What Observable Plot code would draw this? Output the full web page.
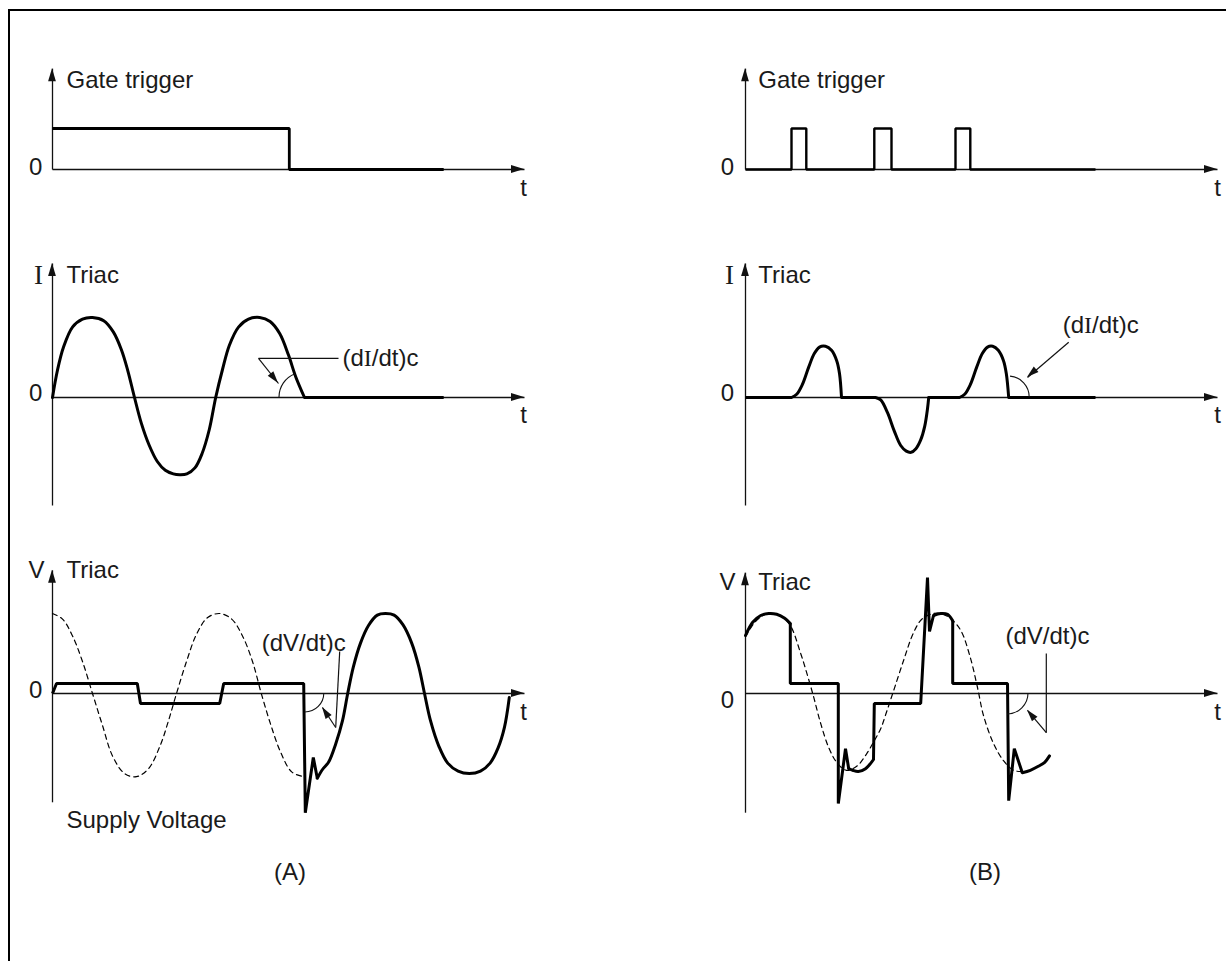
<!DOCTYPE html>
<html><head><meta charset="utf-8">
<script src="https://cdn.jsdelivr.net/npm/d3@7"></script>
<script src="https://cdn.jsdelivr.net/npm/@observablehq/plot@0.6"></script>
<style>
html,body{margin:0;padding:0;background:#fff;overflow:hidden;}
#page{position:relative;width:1226px;height:961px;overflow:hidden;font-family:"Liberation Sans",Arial,Helvetica,sans-serif;}
#frame{position:absolute;left:8px;top:9px;width:1400px;height:1100px;border-left:2.6px solid #000;border-top:2.6px solid #000;}
.panel{position:absolute;}
.cap{position:absolute;font-size:24px;color:#1a1a1a;transform:translate(-50%,-50%);white-space:nowrap;}
</style></head>
<body><div id="page"><div id="frame"></div></div>
<script>
// ---------------- data (time t in ms, amplitude in normalised units) ----------------
const T_END = 59; // length of time axis
// gate trigger
const gateA = [[0,1],[29.6,1],[29.6,0],[48.9,0]];
const gateB = [[0,0],[5.75,0],[5.75,1],[7.6,1],[7.6,0],[16.1,0],[16.1,1],[18.25,1],[18.25,0],[26.25,0],[26.25,1],[28.1,1],[28.1,0],[43.75,0]];
// triac current
const iTriacA = [
  ["smooth", [[0,0],[0.62,0.34],[1.38,0.63],[2.5,0.88],[3.75,0.98],[5.0,1.0],[6.4,0.96],[7.6,0.82],[8.6,0.6],[9.4,0.34],[10.25,0],[11.1,-0.32],[12.1,-0.6],[13.1,-0.8],[14.1,-0.91],[15.1,-0.955],[15.9,-0.965],[16.8,-0.955],[17.8,-0.88],[18.7,-0.7],[19.6,-0.4],[20.4,0],[21.25,0.35],[22.1,0.65],[23.25,0.88],[24.5,0.98],[25.9,1.0],[27.2,0.95],[28.4,0.8],[29.5,0.53],[30.4,0.26],[31.5,0]]],
  ["linear", [[31.5,0],[48.9,0]]]
];
const iTriacB = [
  ["linear", [[0,0],[5.75,0]]],
  ["smooth", [[5.75,0],[6.4,0.04],[7.1,0.16],[7.9,0.38],[8.6,0.55],[9.25,0.63],[10.0,0.64],[10.75,0.59],[11.4,0.46],[11.75,0.3],[12.0,0]]],
  ["linear", [[12,0],[16.25,0]]],
  ["smooth", [[16.25,0],[16.9,-0.03],[17.75,-0.19],[18.6,-0.42],[19.4,-0.6],[20.1,-0.67],[20.7,-0.685],[21.3,-0.64],[21.9,-0.53],[22.4,-0.36],[22.75,-0.14],[22.9,0]]],
  ["linear", [[22.9,0],[26.75,0]]],
  ["smooth", [[26.75,0],[27.4,0.04],[28.1,0.16],[28.9,0.38],[29.6,0.55],[30.25,0.63],[30.9,0.64],[31.6,0.59],[32.25,0.46],[32.6,0.3],[32.9,0]]],
  ["linear", [[32.9,0],[43.75,0]]]
];
// supply voltage (dashed)
const supplyA = [[0,1.0],[1.25,0.93],[2.5,0.72],[3.75,0.4],[5.0,0],[6.25,-0.4],[7.5,-0.78],[9.0,-1.0],[10.5,-1.04],[12.0,-0.94],[13.5,-0.64],[14.5,-0.34],[15.5,0],[16.75,0.4],[18.0,0.74],[19.4,0.95],[20.9,1.0],[22.4,0.93],[23.75,0.72],[25.0,0.4],[26.1,0],[27.25,-0.38],[28.5,-0.73],[29.9,-0.98],[31.4,-1.04]];
const supplyB = [[0,0.71],[1.25,0.9],[2.5,0.99],[3.4,1.0],[4.4,0.975],[5.6,0.85],[6.9,0.5],[8.4,0],[9.4,-0.375],[10.4,-0.675],[11.4,-0.86],[12.6,-0.96],[13.9,-0.91],[15.1,-0.76],[16.1,-0.59],[16.9,-0.44],[17.6,-0.24],[18.4,0],[19.75,0.41],[21,0.76],[22,0.925],[23.1,0.99],[24.4,1.0],[25.6,0.94],[26.9,0.79],[28.1,0.45],[29,0.075],[29.75,-0.275],[31,-0.625],[32.25,-0.84],[33.5,-0.96],[34.4,-0.975]];
// triac voltage
const vTriacA = [
  ["linear", [[0,0],[0.5,0.125],[10.6,0.125],[11.0,-0.125],[20.9,-0.125],[21.4,0.125],[31.4,0.125],[31.6,-1.49],[32.6,-0.8],[33.1,-1.06]]],
  ["smooth", [[33.1,-1.06],[33.75,-0.95],[34.5,-0.86],[35.4,-0.63],[36.25,-0.34],[36.9,0],[37.6,0.33],[38.5,0.63],[39.5,0.85],[40.6,0.98],[41.6,1.0],[42.7,0.98],[43.8,0.86],[44.9,0.63],[45.8,0.33],[46.5,0],[47.25,-0.34],[48.3,-0.66],[49.4,-0.87],[50.7,-0.97],[52.1,-1.0],[53.5,-0.97],[54.7,-0.87],[55.7,-0.68],[56.5,-0.42],[57.1,-0.05]]]
];
const vTriacB = [
  ["smooth", [[0,0.725],[0.9,0.89],[1.9,0.975],[2.9,1.0],[3.9,0.99],[4.9,0.94],[5.6,0.875]]],
  ["linear", [[5.6,0.875],[5.6,0.125],[11.6,0.125],[11.6,-1.375],[12.5,-0.69],[12.9,-0.94]]],
  ["smooth", [[12.9,-0.94],[13.4,-0.96],[14.1,-0.975],[15,-0.94],[16,-0.825]]],
  ["linear", [[16,-0.825],[16.1,-0.125],[21.9,-0.125],[22.75,1.45],[23,0.775],[23.5,0.975]]],
  ["smooth", [[23.5,0.975],[24.4,1.0],[25.25,0.99],[25.9,0.91]]],
  ["linear", [[25.9,0.91],[25.9,0.125],[32.75,0.125],[32.9,-1.34],[33.6,-0.69],[34.6,-0.99]]],
  ["smooth", [[34.6,-0.99],[35.6,-0.96],[36.6,-0.91],[37.4,-0.86],[38,-0.78]]]
];

// ---------------- helpers ----------------
const SANS = "'Liberation Sans', Arial, Helvetica, sans-serif";
const SERIF = "'Liberation Serif', 'Times New Roman', serif";
const INK = "#000";
const TXT = "#1a1a1a";
const FS = 24;

function wave(segs, sw = 3) {
  const rows = segs.flatMap(([kind, pts], i) => pts.map(([t, v]) => ({t, v, seg: i, kind})));
  return [
    Plot.line(rows.filter(d => d.kind === "smooth"), {x: "t", y: "v", z: "seg", curve: "catmull-rom", stroke: INK, strokeWidth: sw, strokeLinejoin: "round", strokeLinecap: "round"}),
    Plot.line(rows.filter(d => d.kind === "linear"), {x: "t", y: "v", z: "seg", stroke: INK, strokeWidth: sw, strokeLinejoin: "miter", strokeLinecap: "butt"})
  ];
}
function steps(pts, sw) {
  return Plot.line(pts, {x: d => d[0], y: d => d[1], stroke: INK, strokeWidth: sw, strokeLinejoin: "miter", strokeLinecap: "butt"});
}
function dashed(pts) {
  return Plot.line(pts, {x: d => d[0], y: d => d[1], curve: "catmull-rom", stroke: INK, strokeWidth: 1.2, strokeDasharray: "5,4"});
}
// filled arrow heads, computed in screen space from the scales
function heads(list, L = 13, W = 3.9) {
  return (index, {x, y}) => {
    const g = d3.create("svg:g").attr("fill", "#111");
    for (const a of list) {
      const x1 = x(a.t1), y1 = y(a.v1), x2 = x(a.t2), y2 = y(a.v2);
      const ang = Math.atan2(y2 - y1, x2 - x1), ux = Math.cos(ang), uy = Math.sin(ang);
      const bx = x2 - ux * L, by = y2 - uy * L, px = -uy * W, py = ux * W;
      g.append("path").attr("d", `M${x2},${y2}L${bx + px},${by + py}L${bx - px},${by - py}Z`);
    }
    return g.node();
  };
}
function arcs(list) {
  return (index, {x, y}) => {
    const g = d3.create("svg:g").attr("fill", "none").attr("stroke", "#111").attr("stroke-width", 1.1);
    for (const a of list) {
      const cx = x(a.t), cy = y(a.v), r = a.r, a0 = a.a0 * Math.PI / 180, a1 = a.a1 * Math.PI / 180;
      g.append("path").attr("d", `M${cx + r * Math.cos(a0)},${cy + r * Math.sin(a0)}A${r},${r} 0 0 ${a.sweep} ${cx + r * Math.cos(a1)},${cy + r * Math.sin(a1)}`);
    }
    return g.node();
  };
}
function links(list, sw = 1.2) {
  return Plot.link(list, {x1: "t1", y1: "v1", x2: "t2", y2: "v2", stroke: "#111", strokeWidth: sw});
}
function texts(list, anchor, family = SANS, size = FS) {
  return Plot.text(list, {x: d => d[0], y: d => d[1], text: d => d[2], textAnchor: anchor, fontFamily: family, fontSize: size, fill: TXT});
}

const cols = {A: {left: 0, width: 610, axisX: 52}, B: {left: 610, width: 616, axisX: 135}};
const rowsCfg = {
  gate: {top: 40, height: 180, zeroY: 129, ky: 41},
  cur: {top: 220, height: 320, zeroY: 177, ky: 80},
  volt: {top: 540, height: 320, zeroY: 153, ky: 80}
};
const KX = 8; // px per ms

function panel(col, row, vTip, vBot, marks) {
  const c = cols[col], r = rowsCfg[row];
  const axis = [
    {t1: 0, v1: vBot, t2: 0, v2: vTip},
    {t1: 0, v1: 0, t2: T_END, v2: 0}
  ];
  const p = Plot.plot({
    width: c.width, height: r.height,
    style: {background: "transparent", overflow: "visible"},
    x: {domain: [0, 1], range: [c.axisX, c.axisX + KX], axis: null},
    y: {domain: [0, 1], range: [r.zeroY, r.zeroY - r.ky], axis: null},
    marks: [
      links(axis, 1.3),
      ...marks,
      heads(axis)
    ]
  });
  p.querySelectorAll("text").forEach(el => {
    if (el.textContent === "(dI/dt)c") {
      el.textContent = "";
      const ns = "http://www.w3.org/2000/svg";
      const a = document.createElementNS(ns, "tspan"); a.textContent = "(d";
      const b = document.createElementNS(ns, "tspan"); b.textContent = "I"; b.setAttribute("font-family", SERIF);
      const d = document.createElementNS(ns, "tspan"); d.textContent = "/dt)c";
      el.append(a, b, d);
    }
  });
  const div = document.createElement("div");
  div.className = "panel";
  div.style.left = c.left + "px"; div.style.top = r.top + "px";
  div.style.width = c.width + "px"; div.style.height = r.height + "px";
  div.appendChild(p);
  document.getElementById("page").appendChild(div);
}

// ---------------- (A) ----------------
panel("A", "gate", 2.46, 0, [
  steps(gateA, 2.8),
  texts([[1.75, 2.17, "Gate trigger"]], "start"),
  texts([[-2.1, 0.05, "0"], [58.9, -0.46, "t"]], "middle")
]);
const arrowIA = [{t1: 25.75, v1: 0.49, t2: 28.25, v2: 0.175}];
panel("A", "cur", 1.675, -1.35, [
  ...wave(iTriacA),
  links([{t1: 25.75, v1: 0.49, t2: 35.75, v2: 0.49}, ...arrowIA]),
  arcs([{t: 31.5, v: 0, r: 25, a0: 180, a1: 249, sweep: 1}]),
  heads(arrowIA, 12, 3.6),
  texts([[1.75, 1.525, "Triac"], [36.25, 0.49, "(dI/dt)c"]], "start"),
  texts([[-2.1, 0.05, "0"], [58.9, -0.225, "t"]], "middle"),
  texts([[-1.75, 1.525, "I"]], "middle", SERIF, 27)
]);
const arrowVA = [{t1: 35.4, v1: -0.425, t2: 33.75, v2: -0.175}];
panel("A", "volt", 1.54, -1.36, [
  dashed(supplyA),
  ...wave(vTriacA),
  links([{t1: 35.9, v1: 0.525, t2: 35.4, v2: -0.425}, ...arrowVA]),
  arcs([{t: 31.6, v: 0, r: 19, a0: 90, a1: 0, sweep: 0}]),
  heads(arrowVA, 12, 3.6),
  texts([[1.75, 1.54, "Triac"], [1.75, -1.59, "Supply Voltage"]], "start"),
  texts([[-2.0, 1.54, "V"], [-2.1, 0.04, "0"], [58.9, -0.24, "t"], [31.4, 0.625, "(dV/dt)c"]], "middle")
]);

// ---------------- (B) ----------------
panel("B", "gate", 2.46, 0, [
  steps(gateB, 2.4),
  texts([[1.6, 2.17, "Gate trigger"]], "start"),
  texts([[-2.25, 0.05, "0"], [59, -0.46, "t"]], "middle")
]);
const arrowIB = [{t1: 40.4, v1: 0.69, t2: 35.25, v2: 0.25}];
panel("B", "cur", 1.675, -1.35, [
  ...wave(iTriacB),
  links(arrowIB),
  arcs([{t: 32.9, v: 0, r: 21, a0: -85, a1: 0, sweep: 1}]),
  heads(arrowIB, 12, 3.6),
  texts([[1.6, 1.525, "Triac"]], "start"),
  texts([[-2.25, 0.05, "0"], [59, -0.225, "t"], [44.4, 0.9, "(dI/dt)c"]], "middle"),
  texts([[-2.0, 1.525, "I"]], "middle", SERIF, 27)
]);
const arrowVB = [{t1: 37.6, v1: -0.49, t2: 35.25, v2: -0.21}];
panel("B", "volt", 1.51, -1.49, [
  dashed(supplyB),
  ...wave(vTriacB),
  links([{t1: 37.6, v1: 0.5, t2: 37.6, v2: -0.49}, ...arrowVB]),
  arcs([{t: 32.75, v: 0, r: 21, a0: 90, a1: 0, sweep: 0}]),
  heads(arrowVB, 12, 3.6),
  texts([[1.6, 1.39, "Triac"]], "start"),
  texts([[-2.25, 1.39, "V"], [-2.25, -0.09, "0"], [59, -0.24, "t"], [37.75, 0.71, "(dV/dt)c"]], "middle")
]);

// captions
const captions = [["(A)", 290, 872], ["(B)", 985, 872]];
for (const [s, x, y] of captions) {
  const d = document.createElement("div");
  d.className = "cap"; d.textContent = s; d.style.left = x + "px"; d.style.top = y + "px";
  document.getElementById("page").appendChild(d);
}
</script></body></html>
